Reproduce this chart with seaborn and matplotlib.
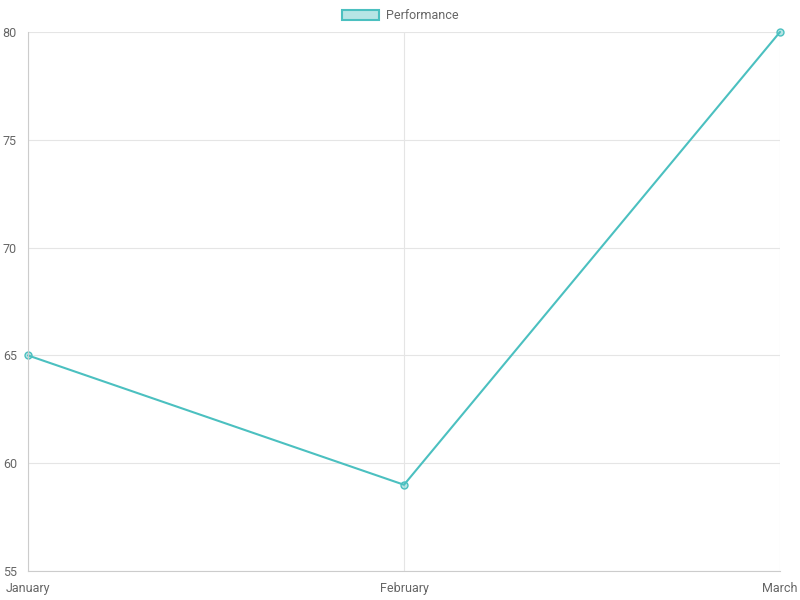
import matplotlib
matplotlib.use("Agg")
import matplotlib.pyplot as plt
import seaborn as sns
import pandas as pd
from matplotlib.patches import Patch

months = ["January", "February", "March"]
performance = [65, 59, 80]
y_ticks = [55, 60, 65, 70, 75, 80]

df = pd.DataFrame({"mes": months, "valor": performance})

sns.set_theme(style="white")
plt.rcParams["font.family"] = ["Roboto", "DejaVu Sans"]

color_linea = "#4bc0c0"
relleno = (75/255, 192/255, 192/255, 0.4)
gris_txt = "#666666"
gris_grid = "#e5e5e5"

fig = plt.figure(figsize=(8, 6), dpi=100)
ax = fig.add_axes([0.035, 0.0483, 0.94, 0.8984])

sns.lineplot(data=df, x="mes", y="valor", ax=ax, color=color_linea, linewidth=1.5,
             marker="o", markersize=5, markerfacecolor=relleno,
             markeredgecolor=color_linea, markeredgewidth=1.0, sort=False, clip_on=False)

ax.set_xlim(0, len(months) - 1)
ax.set_ylim(55, 80)
ax.set_yticks(y_ticks)
ax.set_xlabel("")
ax.set_ylabel("")
ax.grid(True, color=gris_grid, linewidth=0.8)
for s in ax.spines.values():
    s.set_visible(False)
ax.spines["left"].set_visible(True)
ax.spines["bottom"].set_visible(True)
ax.spines["left"].set_color("#cccccc")
ax.spines["bottom"].set_color("#cccccc")
ax.spines["left"].set_linewidth(0.8)
ax.spines["bottom"].set_linewidth(0.8)
ax.tick_params(axis="both", labelcolor=gris_txt, color=gris_grid, labelsize=9,
               length=6, width=0.8, pad=2)

handle = Patch(facecolor=relleno, edgecolor=color_linea, linewidth=1.5)
fig.legend([handle], ["Performance"], loc="center", bbox_to_anchor=(0.5, 0.974),
           frameon=False, fontsize=9, labelcolor=gris_txt, handlelength=3.0,
           handleheight=0.9, handletextpad=0.5)

fig.savefig("out.png", dpi=100)
